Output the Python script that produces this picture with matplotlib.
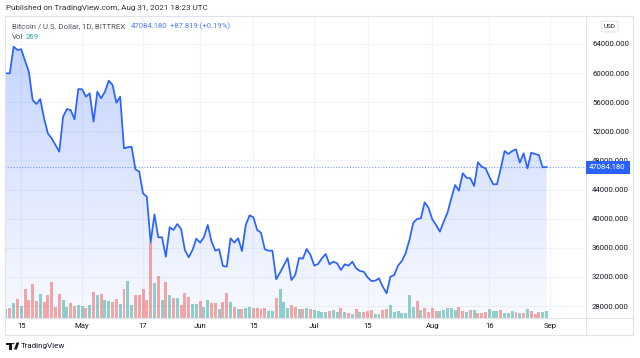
import matplotlib
matplotlib.use("Agg")
import matplotlib.pyplot as plt
import matplotlib.dates as mdates
import matplotlib.transforms as mtransforms
from matplotlib.patches import Rectangle, FancyBboxPatch, Polygon, Circle
from matplotlib.lines import Line2D
import numpy as np
import pandas as pd

# ---------------- data ----------------
start_date = "2021-04-11"
close = [
    59960, 59960, 63620, 63170, 63260, 61700, 60190, 56300, 55750, 56430,
    53780, 51720, 51030, 50120, 49200, 54000, 55060, 54920, 53640, 57800,
    57770, 56750, 57210, 53320, 57440, 56530, 57440, 58950, 58360, 55930,
    56750, 49660, 49800, 49880, 46780, 46450, 43480, 43010, 36700, 40600,
    37440, 37440, 34770, 38810, 38440, 39260, 38580, 35690, 34690, 35690,
    37250, 36700, 37440, 39130, 36840, 35600, 35790, 33490, 33400, 37300,
    36700, 37300, 35550, 39130, 40460, 40180, 38440, 38070, 35790, 35600,
    35600, 31670, 32580, 33590, 34590, 31570, 32260, 34590, 34500, 35830,
    35010, 33540, 33770, 34550, 35140, 33730, 34090, 33870, 32950, 33730,
    33540, 34090, 33180, 32810, 32710, 31940, 31430, 31480, 31800, 30650,
    29740, 32020, 32260, 33540, 34180, 35240, 37070, 39440, 39950, 40050,
    42240, 41500, 39910, 39130, 38210, 39580, 40820, 42790, 44620, 43840,
    46230, 45630, 45540, 44480, 47740, 47130, 46910, 45760, 44720, 44720,
    46910, 49290, 48880, 49290, 49520, 47690, 48980, 46910, 49060, 48880,
    48740, 47050, 47084.18,
]
volume = [
    346, 372, 588, 730, 461, 1101, 691, 1318, 665, 922,
    614, 883, 1382, 411, 922, 691, 434, 576, 472, 499,
    472, 372, 499, 1010, 895, 933, 680, 641, 614, 730,
    538, 1114, 1432, 499, 872, 872, 1114, 703, 2869, 1356,
    1613, 691, 1382, 883, 757, 757, 499, 972, 806, 526,
    526, 664, 434, 680, 565, 565, 346, 614, 960, 614,
    411, 346, 346, 372, 422, 384, 384, 346, 384, 268,
    288, 757, 1114, 626, 372, 499, 411, 357, 346, 372,
    346, 307, 280, 242, 230, 257, 307, 242, 372, 242,
    204, 142, 334, 242, 242, 280, 307, 154, 154, 307,
    357, 488, 230, 280, 204, 180, 883, 434, 653, 307,
    384, 242, 384, 280, 280, 307, 384, 384, 307, 434,
    280, 242, 307, 307, 204, 204, 242, 334, 280, 280,
    307, 204, 180, 280, 242, 204, 180, 334, 280, 154,
    230, 242, 269,
]
vol_dir = list(
    "grgrgrrrrgrrrrrggrrggrgrgrggrrgrggrrrrrgrgrgrgrrr"
    "ggrggrrgrrgrgrggrrrrggrgggrrgrgrggggrggrgrgrgrrrg"
    "grrgggggggrgrrrrgggggrrgrgrrrgggrgggrgrgrrrg"
)
price_ticks = [28000, 32000, 36000, 40000, 44000, 48000, 52000, 56000, 60000, 64000]
time_tick_dates = ["2021-04-15", "2021-05-01", "2021-05-17", "2021-06-01", "2021-06-15",
                   "2021-07-01", "2021-07-15", "2021-08-01", "2021-08-16", "2021-09-01"]
time_tick_labels = ["15", "May", "17", "Jun", "15", "Jul", "15", "Aug", "16", "Sep"]
last_price = 47084.18
change = 87.819
change_pct = 0.19
last_vol = 269

# ---------------- style ----------------
W, H = 640, 358
FONT = ["Roboto", "DejaVu Sans"]
plt.rcParams["font.family"] = FONT
LINE = "#2962FF"
RED = "#ef5350"
GREEN = "#26a69a"
BORDER = "#e0e3eb"
GRID = "#f2f4fa"
TXT = "#131722"

def fx(px):
    return px / W

def fy(py):
    return 1 - py / H

fig = plt.figure(figsize=(W / 100, H / 100), dpi=100)
fig.patch.set_facecolor("white")

# plot pane: x 5 .. 585.7, y 16 .. 318
L, R, T, B = 5, 585.7, 16, 318
ax = fig.add_axes([fx(L), fy(B), fx(R - L), (B - T) / H])
ax.set_facecolor("white")

dates = pd.date_range(start_date, periods=len(close), freq="D")
x = mdates.date2num(dates)
y = np.array(close, dtype=float)

px_per_day = 3.806
x0 = x[0] - (6 - L) / px_per_day
x1 = x[0] + (R - 6) / px_per_day
ylo, yhi = 26352, 67835
ax.set_xlim(x0, x1)
ax.set_ylim(ylo, yhi)

# grid
ax.set_yticks(price_ticks)
ax.set_xticks(mdates.date2num(pd.to_datetime(time_tick_dates)))
ax.set_xticklabels(time_tick_labels)
ax.grid(True, color=GRID, lw=0.8, zorder=0)
ax.set_axisbelow(True)

# gradient area
poly = ax.fill_between(x, y, ylo, facecolor="none", edgecolor="none")
grad = np.zeros((256, 1, 4))
grad[..., 0] = 41 / 255
grad[..., 1] = 98 / 255
grad[..., 2] = 1.0
top_val = y.max()
alphas = np.linspace(0.03, 0.27, 256)
grad[:, 0, 3] = alphas
im = ax.imshow(grad, extent=[x0, x1, ylo, top_val], aspect="auto", origin="lower",
               zorder=1, interpolation="bilinear")
im.set_clip_path(poly.get_paths()[0], transform=ax.transData)
ax.set_xlim(x0, x1)
ax.set_ylim(ylo, yhi)

# volume bars (scaled into the pane bottom)
vol_scale = (B - T) * last_vol / 7.0
trans = mtransforms.blended_transform_factory(ax.transData, ax.transAxes)
vcol = [RED if d == "r" else GREEN for d in vol_dir]
ax.bar(x, np.array(volume) / vol_scale, width=0.78, bottom=0, color=vcol, alpha=0.5,
       transform=trans, zorder=2, linewidth=0)

# last price dotted line
ax.axhline(last_price, color=LINE, lw=0.8, ls=(0, (1, 1.5)), alpha=0.6, zorder=3)
# price line
ax.plot(x, y, color=LINE, lw=1.25, zorder=4, solid_joinstyle="round")
ax.set_xlim(x0, x1)
ax.set_ylim(ylo, yhi)

for s in ax.spines.values():
    s.set_visible(False)
ax.yaxis.tick_right()
ax.tick_params(axis="y", length=0, pad=4.6, labelsize=5.6, labelcolor=TXT)
ax.tick_params(axis="x", length=0, pad=3.6, labelsize=5.6, labelcolor=TXT)
ax.yaxis.set_major_formatter(plt.FuncFormatter(lambda v, p: f"{v:.3f}"))
for lab in ax.get_yticklabels():
    lab.set_horizontalalignment("left")

# ---------------- frame lines ----------------
def fline(xa, ya, xb, yb, color=BORDER, lw=0.8):
    fig.add_artist(Line2D([fx(xa), fx(xb)], [fy(ya), fy(yb)], color=color, lw=lw,
                          transform=fig.transFigure))

fline(5, 16, 633, 16)
fline(5, 335, 633, 335)
fline(5, 16, 5, 335)
fline(633, 16, 633, 335)
fline(R, 16, R, 335)
fline(5, B, 633, B)

# last price label box
ly = ax.transData.transform((0, last_price))[1]
ly_px = H - ly
fig.add_artist(Rectangle((fx(586.2), fy(ly_px + 6.5)), (630 - 586.2) / W, 13 / H,
                         facecolor=LINE, edgecolor="none", transform=fig.transFigure, zorder=5))
fig.text(fx(589), fy(ly_px), f"{last_price:.3f}", color="white", fontsize=5.6,
         va="center", ha="left", zorder=6)

# USD box
fig.add_artist(FancyBboxPatch((fx(601.5), fy(32)), 16.5 / W, 11 / H,
                              boxstyle="round,pad=0,rounding_size=0.004",
                              facecolor="white", edgecolor=BORDER, lw=0.7,
                              transform=fig.transFigure))
fig.text(fx(609.7), fy(26.6), "USD", fontsize=4.6, color=TXT, ha="center", va="center")

# header texts
fig.text(fx(6.5), fy(8.2), "Published on TradingView.com, Aug 31, 2021 18:23 UTC",
         fontsize=5.9, color="#333333", ha="left", va="center")
fig.text(fx(11.5), fy(26), "Bitcoin / U.S. Dollar, 1D, BITTREX",
         fontsize=5.6, color="#50535e", ha="left", va="center")
fig.text(fx(130.5), fy(26), f"{last_price:.3f}", fontsize=5.6, color="#4f7cff",
         ha="left", va="center")
fig.text(fx(170), fy(26), f"+{change:.3f} (+{change_pct:.2f}%)", fontsize=5.6,
         color="#4f7cff", ha="left", va="center")
fig.text(fx(11.5), fy(36.8), "Vol", fontsize=5.6, color="#50535e", ha="left", va="center")
fig.text(fx(26), fy(36.8), f"{last_vol}", fontsize=5.6, color="#26a69a", ha="left", va="center")

# TradingView logo
lx, lyb = 6, 346
fig.add_artist(Polygon([(fx(lx), fy(lyb - 3.5)), (fx(lx + 5.5), fy(lyb - 3.5)),
                        (fx(lx + 5.5), fy(lyb + 3.5)), (fx(lx + 3.3), fy(lyb + 3.5)),
                        (fx(lx + 3.3), fy(lyb - 1.4)), (fx(lx), fy(lyb - 1.4))],
                       closed=True, facecolor="#131722", edgecolor="none",
                       transform=fig.transFigure))
fig.add_artist(Circle((fx(lx + 7.3), fy(lyb - 2.4)), 1.2 / W, facecolor="#131722",
                      edgecolor="none", transform=fig.transFigure))
fig.add_artist(Polygon([(fx(lx + 10.5), fy(lyb - 3.5)), (fx(lx + 13.3), fy(lyb - 3.5)),
                        (fx(lx + 10.8), fy(lyb + 3.5)), (fx(lx + 8.0), fy(lyb + 3.5))],
                       closed=True, facecolor="#131722", edgecolor="none",
                       transform=fig.transFigure))
fig.text(fx(21), fy(346), "TradingView", fontsize=5.8, color="#131722",
         ha="left", va="center")

fig.savefig("out.png", dpi=100, facecolor="white")
